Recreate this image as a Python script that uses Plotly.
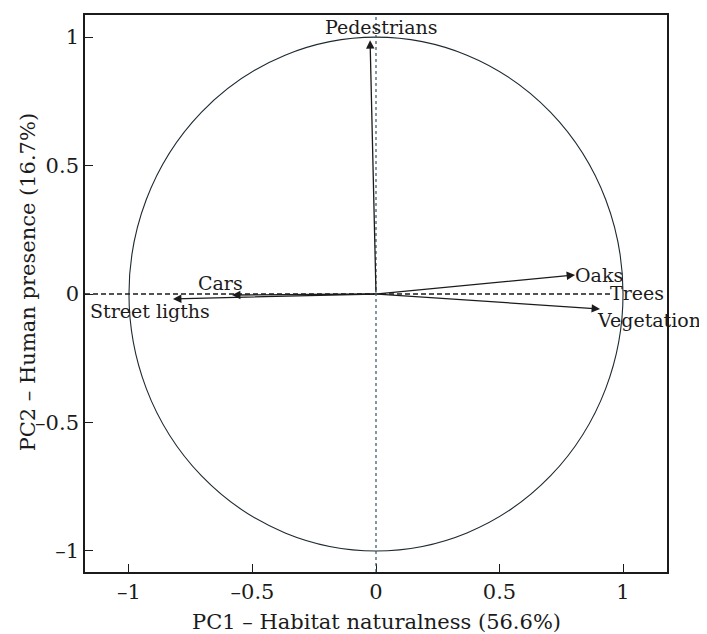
import plotly.graph_objects as go

# loadings (PC1, PC2)
variables = ["Pedestrians", "Cars", "Street ligths", "Oaks", "Trees", "Vegetation"]
pc1 = [-0.024, -0.583, -0.822, 0.806, 0.93, 0.907]
pc2 = [0.988, -0.004, -0.019, 0.074, 0.0, -0.058]
show_arrow = [True, True, True, True, False, True]
# label anchor positions
label_x = [0.02, -0.628, -0.915, 0.903, 1.057, 1.105]
label_y = [1.039, 0.043, -0.066, 0.074, 0.004, -0.101]

x_ticks = [-1, -0.5, 0, 0.5, 1]
x_ticktext = ["–1", "–0.5", "0", "0.5", "1"]
y_ticks = [-1, -0.5, 0, 0.5, 1]
y_ticktext = ["–1", "–0.5", "0", "0.5", "1"]

FONT = "DejaVu Serif"
INK = "#1b1b1b"

fig = go.Figure()
fig.add_trace(go.Scatter(x=[None], y=[None], showlegend=False))

# correlation circle
fig.add_shape(type="circle", xref="x", yref="y", x0=-1, y0=-1, x1=1, y1=1,
              line=dict(color="#1d2a30", width=1.1))
# dashed zero lines
fig.add_shape(type="line", xref="paper", yref="y", x0=0, x1=0.905, y0=0, y1=0,
              line=dict(color=INK, width=1.3, dash="5px,3px"))
fig.add_shape(type="line", xref="x", yref="paper", x0=0, x1=0, y0=0, y1=1,
              line=dict(color="#2e5566", width=1.2, dash="dot"))

for name, x, y, a, lx, ly in zip(variables, pc1, pc2, show_arrow, label_x, label_y):
    if a:
        fig.add_annotation(x=x, y=y, ax=0, ay=0, xref="x", yref="y", axref="x", ayref="y",
                           text="", showarrow=True, arrowhead=2, arrowsize=1.3,
                           arrowwidth=1.3, arrowcolor=INK)
    fig.add_annotation(x=lx, y=ly, xref="x", yref="y", text=name, showarrow=False,
                       font=dict(family=FONT, size=19, color=INK))

# axis titles
fig.add_annotation(x=0.5, y=0, xref="paper", yref="paper", yanchor="middle",
                   yshift=-50, showarrow=False,
                   text="PC1 – Habitat naturalness (56.6%)",
                   font=dict(family=FONT, size=21, color=INK))
fig.add_annotation(x=0, y=0.52, xref="paper", yref="paper", xanchor="center",
                   yanchor="middle", xshift=-57, textangle=-90, showarrow=False,
                   text="PC2 – Human presence (16.7%)",
                   font=dict(family=FONT, size=21, color=INK))

# page body has an 8px default margin, so the figure is sized to fit the window
fig.update_layout(
    width=699, height=626,
    margin=dict(l=77, r=40, t=7, b=62),
    plot_bgcolor="white", paper_bgcolor="white",
    font=dict(family=FONT, size=21, color=INK),
    showlegend=False,
)
fig.update_xaxes(range=[-1.178, 1.178], tickvals=x_ticks, ticktext=x_ticktext,
                 ticks="inside", ticklen=8, tickwidth=1.3, tickcolor=INK,
                 showline=True, linecolor=INK, linewidth=1.6, mirror=True,
                 showgrid=False, zeroline=False, automargin=False,
                 tickfont=dict(family=FONT, size=21, color=INK))
fig.update_yaxes(range=[-1.082, 1.086], tickvals=y_ticks, ticktext=y_ticktext,
                 ticks="inside", ticklen=8, tickwidth=1.3, tickcolor=INK,
                 showline=True, linecolor=INK, linewidth=1.6, mirror=True,
                 showgrid=False, zeroline=False, automargin=False,
                 tickfont=dict(family=FONT, size=21, color=INK))

fig.write_html("out.html")
